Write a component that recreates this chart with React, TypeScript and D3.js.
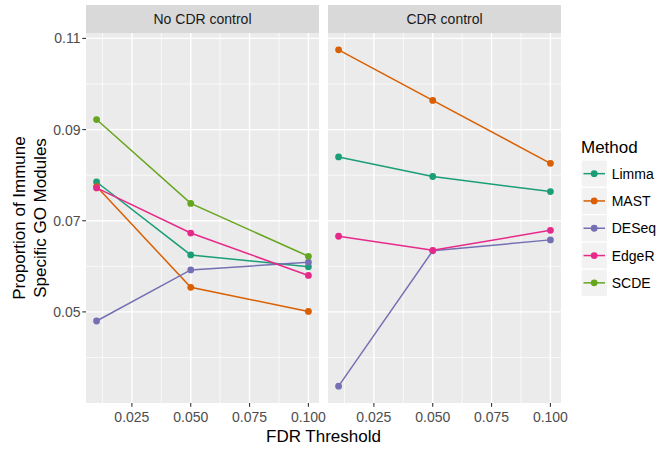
import React from "react";
import * as d3 from "d3";

// FDR thresholds used on the x axis
const thresholds = [0.01, 0.05, 0.1];
const methods = ["Limma", "MAST", "DESeq", "EdgeR", "SCDE"];
const panels = ["No CDR control", "CDR control"];

// Proportion of immune-specific GO modules, per method, at each threshold
const noCdrLimma = [0.0785, 0.0625, 0.0599];
const noCdrMast = [0.0775, 0.0554, 0.0501];
const noCdrDeseq = [0.048, 0.0592, 0.0609];
const noCdrEdger = [0.0772, 0.0673, 0.058];
const noCdrScde = [0.0922, 0.0738, 0.0622];

const cdrLimma = [0.084, 0.0797, 0.0764];
const cdrMast = [0.1075, 0.0964, 0.0826];
const cdrDeseq = [0.0337, 0.0634, 0.0658];
const cdrEdger = [0.0666, 0.0635, 0.0679];
const cdrScde: number[] | null = null;

const xTicks = [0.025, 0.05, 0.075, 0.1];
const xMinor = [0.0125, 0.0375, 0.0625, 0.0875];
const yTicks = [0.05, 0.07, 0.09, 0.11];
const yMinor = [0.04, 0.06, 0.08, 0.1];

const palette = ["#1B9E77", "#D95F02", "#7570B3", "#E7298A", "#66A61E"];

const panelSeries: (number[] | null)[][] = [
  [noCdrLimma, noCdrMast, noCdrDeseq, noCdrEdger, noCdrScde],
  [cdrLimma, cdrMast, cdrDeseq, cdrEdger, cdrScde],
];

const W = 657;
const H = 449;
const panelTop = 33;
const panelBottom = 403;
const stripTop = 5;
const panelX = [
  [86, 319],
  [328, 561],
];
const font = "Liberation Sans, Arial, Helvetica, sans-serif";

export default function App() {
  const allVals = panelSeries.flat().filter((s): s is number[] => !!s).flat();
  const [lo, hi] = d3.extent(allVals) as [number, number];
  const padY = (hi - lo) * 0.05;
  const y = d3.scaleLinear().domain([lo - padY, hi + padY]).range([panelBottom, panelTop]);
  const [xlo, xhi] = d3.extent(thresholds) as [number, number];
  const padX = (xhi - xlo) * 0.05;

  const color = d3.scaleOrdinal<string, string>().domain(methods).range(palette);

  return (
    <svg
      width={W}
      height={H}
      style={{ position: "absolute", left: 0, top: 0, background: "#fff" }}
      fontFamily={font}
    >
      <rect width={W} height={H} fill="#fff" />
      {panels.map((name, pi) => {
        const [x0, x1] = panelX[pi];
        const x = d3.scaleLinear().domain([xlo - padX, xhi + padX]).range([x0, x1]);
        const line = d3
          .line<[number, number]>()
          .x((d) => x(d[0]))
          .y((d) => y(d[1]));
        const series = panelSeries[pi];
        return (
          <g key={name}>
            <rect x={x0} y={stripTop} width={x1 - x0} height={panelTop - stripTop} fill="#D9D9D9" />
            <text
              x={(x0 + x1) / 2}
              y={(stripTop + panelTop) / 2 + 5}
              textAnchor="middle"
              fontSize={14}
              fill="#1A1A1A"
            >
              {name}
            </text>
            <rect x={x0} y={panelTop} width={x1 - x0} height={panelBottom - panelTop} fill="#EBEBEB" />
            {yMinor.map((v) => (
              <line key={"ym" + v} x1={x0} x2={x1} y1={y(v)} y2={y(v)} stroke="#fff" strokeWidth={0.7} />
            ))}
            {xMinor.map((v) => (
              <line key={"xm" + v} x1={x(v)} x2={x(v)} y1={panelTop} y2={panelBottom} stroke="#fff" strokeWidth={0.7} />
            ))}
            {yTicks.map((v) => (
              <line key={"y" + v} x1={x0} x2={x1} y1={y(v)} y2={y(v)} stroke="#fff" strokeWidth={1.4} />
            ))}
            {xTicks.map((v) => (
              <line key={"x" + v} x1={x(v)} x2={x(v)} y1={panelTop} y2={panelBottom} stroke="#fff" strokeWidth={1.4} />
            ))}
            {xTicks.map((v) => (
              <g key={"xt" + v}>
                <line x1={x(v)} x2={x(v)} y1={panelBottom} y2={panelBottom + 3.7} stroke="#333" strokeWidth={1.1} />
                <text x={x(v)} y={422} textAnchor="middle" fontSize={14} fill="#4D4D4D">
                  {d3.format(".3f")(v)}
                </text>
              </g>
            ))}
            {series.map((s, mi) =>
              s ? (
                <path
                  key={"l" + mi}
                  d={line(thresholds.map((t, i) => [t, s[i]]) as [number, number][]) || ""}
                  fill="none"
                  stroke={color(methods[mi])}
                  strokeWidth={1.5}
                />
              ) : null
            )}
            {series.map((s, mi) =>
              s
                ? thresholds.map((t, i) => (
                    <circle key={"p" + mi + "-" + i} cx={x(t)} cy={y(s[i])} r={3.4} fill={color(methods[mi])} />
                  ))
                : null
            )}
          </g>
        );
      })}
      {yTicks.map((v) => (
        <g key={"yt" + v}>
          <line x1={82.3} x2={86} y1={y(v)} y2={y(v)} stroke="#333" strokeWidth={1.1} />
          <text x={80.5} y={y(v) + 5} textAnchor="end" fontSize={14} fill="#4D4D4D">
            {d3.format(".2f")(v)}
          </text>
        </g>
      ))}
      <text x={(panelX[0][0] + panelX[1][1]) / 2} y={441.7} textAnchor="middle" fontSize={17} fill="#000">
        FDR Threshold
      </text>
      <g transform={`translate(0, ${(panelTop + panelBottom) / 2}) rotate(-90)`}>
        <text x={0} y={25} textAnchor="middle" fontSize={17} fill="#000">
          Proportion of Immune
        </text>
        <text x={0} y={45.5} textAnchor="middle" fontSize={17} fill="#000">
          Specific GO Modules
        </text>
      </g>
      <text x={581} y={153} fontSize={17} fill="#000">
        Method
      </text>
      {methods.map((m, i) => {
        const top = 160 + i * 27.3;
        const cy = top + 13.65;
        return (
          <g key={"lg" + m}>
            <rect x={581} y={top} width={26.5} height={27.3} fill="#F2F2F2" stroke="#fff" strokeWidth={1.2} />
            <line x1={583.5} x2={605} y1={cy} y2={cy} stroke={color(m)} strokeWidth={1.5} />
            <circle cx={594.2} cy={cy} r={3.4} fill={color(m)} />
            <text x={611.7} y={cy + 5} fontSize={14} fill="#000">
              {m}
            </text>
          </g>
        );
      })}
    </svg>
  );
}
